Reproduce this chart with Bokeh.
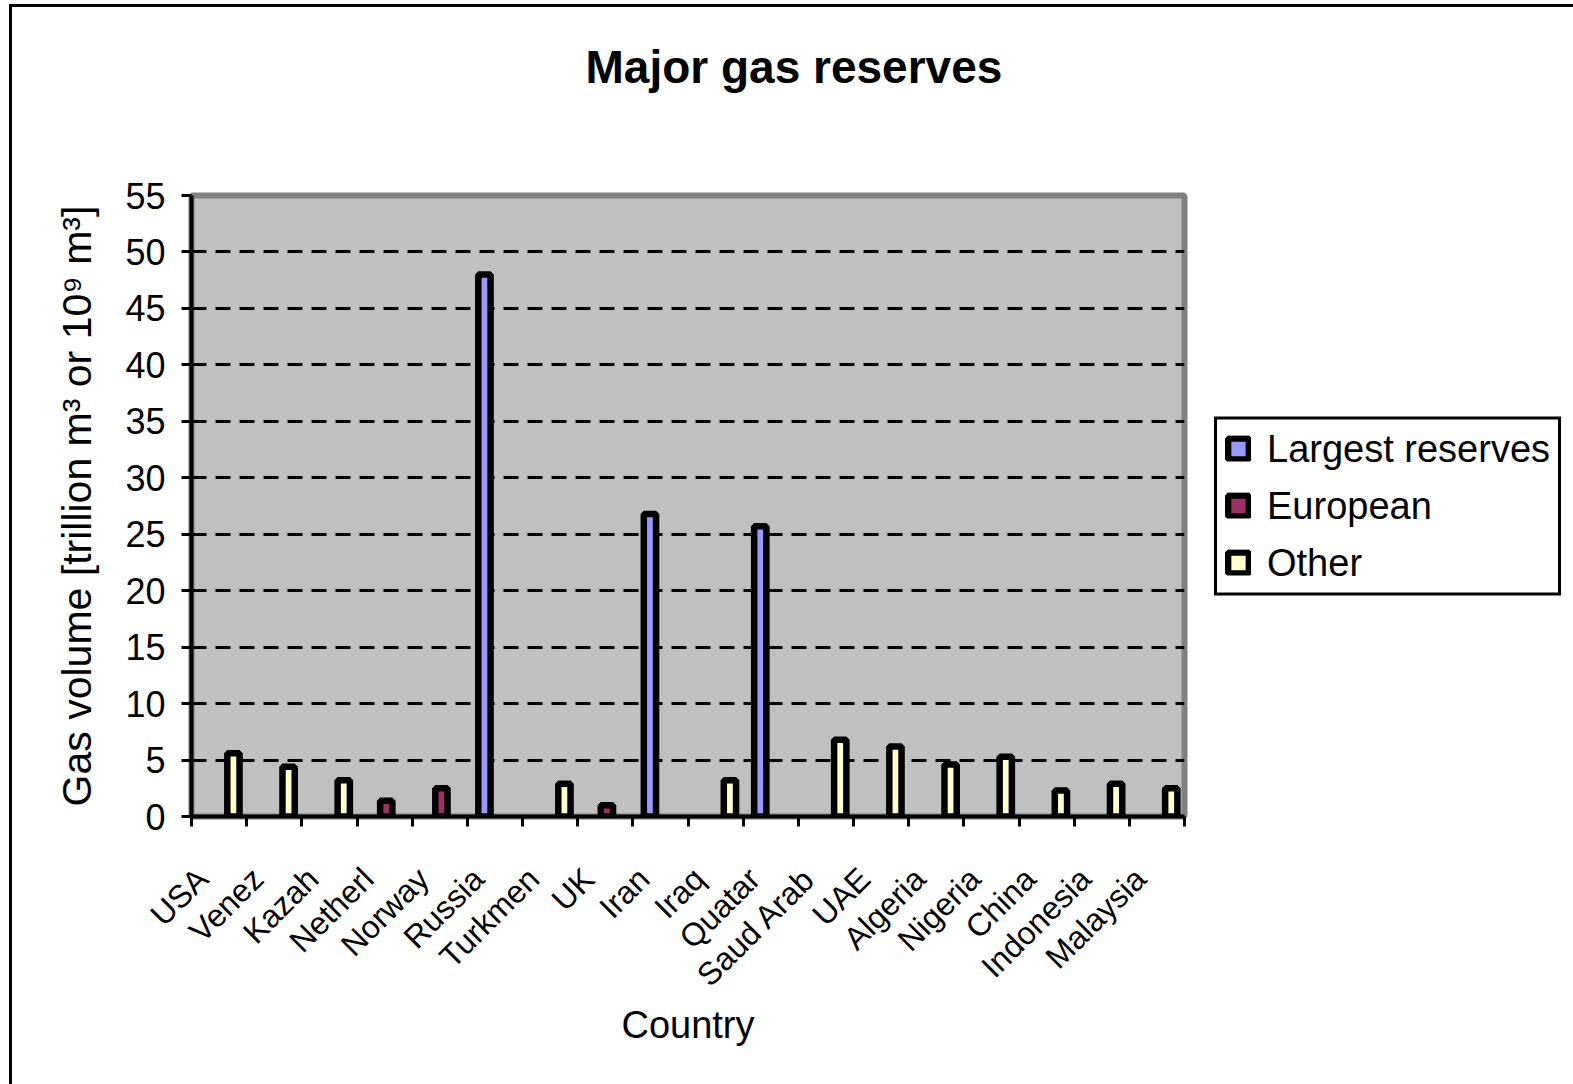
import math
from bokeh.plotting import figure
from bokeh.models import (Range1d, FixedTicker, ColumnDataSource, Legend, LegendItem,
                          Title)
from bokeh.embed import file_html
from bokeh.resources import INLINE

# Countries along the x axis (order as plotted)
countries = ["USA", "Venez", "Kazah", "Netherl", "Norway", "Russia", "Turkmen",
             "UK", "Iran", "Iraq", "Quatar", "Saud Arab", "UAE", "Algeria",
             "Nigeria", "China", "Indonesia", "Malaysia"]

# Gas reserves, trillion m3, per series
largest_countries = ["Russia", "Iran", "Quatar"]
largest_values = [48.0, 26.8, 25.7]

european_countries = ["Netherl", "Norway", "UK"]
european_values = [1.4, 2.5, 1.0]

other_countries = ["USA", "Venez", "Kazah", "Turkmen", "Iraq", "Saud Arab",
                   "UAE", "Algeria", "Nigeria", "China", "Indonesia", "Malaysia"]
other_values = [5.6, 4.4, 3.2, 2.9, 3.2, 6.8, 6.2, 4.6, 5.3, 2.3, 2.9, 2.5]

y_ticks = list(range(0, 60, 5))

FONT = "Liberation Sans"
W, H = 1573, 1084
LEFT, RIGHT, TOP, BOTTOM = 191, 1184, 195, 816

p = figure(width=W, height=H, frame_width=RIGHT - LEFT, frame_height=BOTTOM - TOP,
           output_backend="svg", toolbar_location=None,
           x_range=Range1d(0, len(countries)), y_range=Range1d(0, 55),
           min_border_left=LEFT, min_border_right=W - RIGHT,
           min_border_top=TOP, min_border_bottom=H - BOTTOM)
p.title = None
p.background_fill_color = "#C0C0C0"
p.border_fill_color = None
p.outline_line_color = "#808080"
p.outline_line_width = 6

# the category axis below and the value axis on the left
xa = p.below[0]
ya = p.left[0]

# white page with the chart box's left and top border lines
p.styles = {
    "background-color": "white",
    "background-image": "linear-gradient(black, black), linear-gradient(black, black)",
    "background-size": "3px calc(100% - 4px), calc(100% - 9px) 3px",
    "background-position": "9px 4px, 9px 4px",
    "background-repeat": "no-repeat",
}

# empty band between the plot area and the title
p.add_layout(Title(text=" ", text_font_size="1px", standoff=95), "above")

# chart title
p.add_layout(Title(text="Major gas reserves", text_font=FONT, text_font_size="46px",
                   text_font_style="bold", text_color="black", align="left",
                   offset=585 - LEFT, standoff=10), "above")

# horizontal dashed gridlines
p.xgrid.visible = False
p.ygrid.ticker = FixedTicker(ticks=y_ticks[1:-1])
p.ygrid.grid_line_color = "black"
p.ygrid.grid_line_width = 3
p.ygrid.grid_line_dash = "15 9"

# clustered bars: three series side by side within each country slot
bar_w = 0.222
series = [
    ("Largest reserves", largest_countries, largest_values, "#9999FF", -0.19),
    ("European", european_countries, european_values, "#993366", 0.03),
    ("Other", other_countries, other_values, "#FFFFCC", 0.26),
]
items = []
for name, cats, vals, color, shift in series:
    src = ColumnDataSource(dict(
        x=[countries.index(c) + 0.5 + shift for c in cats],
        top=vals))
    r = p.vbar(x="x", top="top", bottom=0, width=bar_w, source=src,
               fill_color=color, line_color="black", line_width=6.5)
    items.append(LegendItem(label=name, renderers=[r]))

# y axis
ya.ticker = FixedTicker(ticks=y_ticks)
ya.axis_line_color = "black"
ya.axis_line_width = 4
ya.major_tick_out = 10
ya.major_tick_in = 0
ya.major_tick_line_width = 3
ya.minor_tick_line_color = None
ya.major_label_text_font = FONT
ya.major_label_text_font_size = "36px"
ya.major_label_text_color = "black"
ya.major_label_standoff = 16
ya.axis_label = "Gas volume [trillion m\u00b3 or 10\u2079 m\u00b3]"
ya.axis_label_text_font = FONT
ya.axis_label_text_font_size = "41px"
ya.axis_label_text_font_style = "normal"
ya.axis_label_text_color = "black"
ya.axis_label_standoff = 22

# x axis: ticks on slot boundaries, names just left of slot centres
label_pos = [i + 0.2 for i in range(len(countries))]
xa.ticker = FixedTicker(ticks=label_pos, minor_ticks=list(range(len(countries) + 1)))
xa.major_label_overrides = {c: n for c, n in zip(label_pos, countries)}
xa.axis_line_color = "black"
xa.axis_line_width = 4
xa.major_tick_line_color = None
xa.major_tick_out = 0
xa.major_tick_in = 0
xa.minor_tick_line_color = "black"
xa.minor_tick_line_width = 3
xa.minor_tick_out = 10
xa.minor_tick_in = 0
xa.major_label_orientation = math.pi / 4
xa.major_label_text_font = FONT
xa.major_label_text_font_size = "32px"
xa.major_label_text_color = "black"
xa.major_label_standoff = 47
xa.axis_label = "Country"
xa.axis_label_text_font = FONT
xa.axis_label_text_font_size = "38px"
xa.axis_label_text_font_style = "normal"
xa.axis_label_text_color = "black"
xa.axis_label_standoff = -5

# legend to the right of the plot area
lg = Legend(items=items, location="center_left")
lg.border_line_color = "black"
lg.border_line_width = 3
lg.border_line_alpha = 1
lg.background_fill_color = "white"
lg.background_fill_alpha = 1
lg.label_text_font = FONT
lg.label_text_font_size = "38px"
lg.label_text_color = "black"
lg.glyph_width = 26
lg.glyph_height = 26
lg.label_height = 42
lg.spacing = 14
lg.padding = 8
lg.margin = 30
lg.label_standoff = 16
p.add_layout(lg, "right")

open("out.html", "w").write(file_html(p, INLINE))
